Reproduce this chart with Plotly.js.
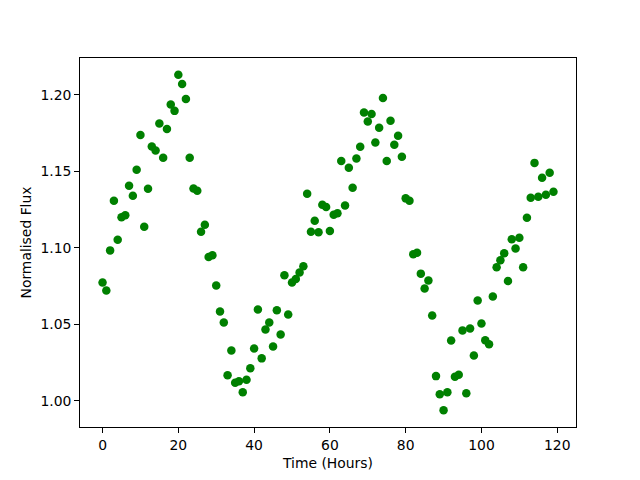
<!DOCTYPE html>
<html>
<head>
<meta charset="utf-8">
<script src="https://cdn.plot.ly/plotly-3.0.1.min.js"></script>
<style>html,body{margin:0;padding:0;background:#fff;}#chart{width:640px;height:480px;}</style>
</head>
<body>
<div id="chart"></div>
<script>
// Time in hours
const hours = Array.from({length: 120}, (_, i) => i);
// Normalised flux values
const flux = [
  1.0774, 1.0721, 1.0984, 1.1309, 1.1054, 1.1200, 1.1213, 1.1406, 1.1341, 1.1511,
  1.1739, 1.1139, 1.1387, 1.1663, 1.1637, 1.1813, 1.1589, 1.1778, 1.1937, 1.1896,
  1.2132, 1.2072, 1.1974, 1.1589, 1.1389, 1.1374, 1.1106, 1.1152, 1.0941, 1.0952,
  1.0754, 1.0584, 1.0513, 1.0167, 1.0330, 1.0119, 1.0128, 1.0056, 1.0138, 1.0213,
  1.0343, 1.0598, 1.0278, 1.0467, 1.0513, 1.0356, 1.0593, 1.0434, 1.0821, 1.0565,
  1.0774, 1.0797, 1.0839, 1.0880, 1.1354, 1.1106, 1.1178, 1.1102, 1.1282, 1.1267,
  1.1110, 1.1217, 1.1226, 1.1569, 1.1278, 1.1524, 1.1393, 1.1584, 1.1661, 1.1885,
  1.1826, 1.1876, 1.1689, 1.1785, 1.1980, 1.1569, 1.1832, 1.1674, 1.1733, 1.1596,
  1.1324, 1.1309, 1.0958, 1.0969, 1.0832, 1.0735, 1.0787, 1.0558, 1.0162, 1.0043,
  0.9939, 1.0056, 1.0395, 1.0158, 1.0171, 1.0461, 1.0050, 1.0474, 1.0297, 1.0656,
  1.0506, 1.0397, 1.0371, 1.0682, 1.0873, 1.0919, 1.0965, 1.0784, 1.1056, 1.0997,
  1.1067, 1.0873, 1.1198, 1.1328, 1.1556, 1.1335, 1.1459, 1.1348, 1.1491, 1.1367
];
const xTicks = [0, 20, 40, 60, 80, 100, 120];
const yTicks = [1.00, 1.05, 1.10, 1.15, 1.20];

function padRange(arr) {
  const mn = Math.min(...arr), mx = Math.max(...arr);
  const p = (mx - mn) * 0.05;
  return [mn - p, mx + p];
}

const font = {family: 'DejaVu Sans, sans-serif', size: 13.9, color: '#000'};

const trace = {
  x: hours, y: flux, type: 'scatter', mode: 'markers',
  marker: {color: '#008000', size: 8.5, line: {width: 0}},
  hoverinfo: 'skip'
};

const axisCommon = {
  showgrid: false, zeroline: false, showline: true, mirror: true,
  linecolor: '#000', linewidth: 1, ticks: 'outside', ticklen: 4.9,
  tickwidth: 1, tickcolor: '#000', tickfont: font
};

const layout = {
  width: 640, height: 480,
  margin: {l: 80, r: 64, t: 58, b: 53, pad: 0},
  paper_bgcolor: '#fff', plot_bgcolor: '#fff',
  showlegend: false,
  font: font,
  xaxis: Object.assign({}, axisCommon, {
    range: padRange(hours), tickmode: 'array', tickvals: xTicks,
    ticktext: xTicks.map(String),
    title: {text: 'Time (Hours)', font: font, standoff: 6}
  }),
  yaxis: Object.assign({}, axisCommon, {
    range: padRange(flux), tickmode: 'array', tickvals: yTicks,
    ticktext: yTicks.map(v => v.toFixed(2)),
    title: {text: 'Normalised Flux', font: font, standoff: 5}
  })
};

Plotly.newPlot('chart', [trace], layout, {displayModeBar: false, staticPlot: true});
</script>
</body>
</html>
